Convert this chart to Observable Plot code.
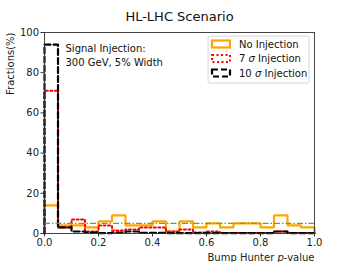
<!DOCTYPE html>
<html>
<head>
<meta charset="utf-8">
<script src="https://cdn.jsdelivr.net/npm/d3@7"></script>
<script src="https://cdn.jsdelivr.net/npm/@observablehq/plot@0.6"></script>
<style>
  html, body { margin: 0; padding: 0; background: #fff; }
  #wrap { position: relative; width: 349px; height: 262px; }
  #wrap svg { font-family: "DejaVu Sans", sans-serif; }
  #legend { position: absolute; left: 0; top: 0; }
</style>
</head>
<body>
<div id="wrap"></div>
<script>
// bin edges (left edge of each 0.05 bin)
const binEdges = [0.00,0.05,0.10,0.15,0.20,0.25,0.30,0.35,0.40,0.45,0.50,0.55,0.60,0.65,0.70,0.75,0.80,0.85,0.90,0.95];
const binEnd = 1.0;
// fractions (%)
const noInjection = [14,4,4,3,6,9,4,4,6,1,6,3,5,3,5,5,3,9,4,3];
const sigma7 = [71,3,7,1,4,1.5,2,3,3,1,2,0.5,1,0.3,0.3,0.3,0.3,1,0.3,0.3];
const sigma10 = [94,3,1,0.5,0.2,0.5,1,0.3,0.3,0.2,0.2,0.2,0.2,0.2,0.2,0.2,0.2,1,0.2,0.2];
const refLevel = 5;
const xTicks = [0,0.2,0.4,0.6,0.8,1.0];
const yTicks = [0,20,40,60,80,100];
const seriesNames = ["No Injection", "7 \u03C3 Injection", "10 \u03C3 Injection"];

function stepPoints(vals) {
  const pts = [{x: binEdges[0], y: 0}];
  vals.forEach((v, i) => pts.push({x: binEdges[i], y: v}));
  pts.push({x: binEnd, y: vals[vals.length - 1]});
  pts.push({x: binEnd, y: 0});
  return pts;
}

const orange = "#FFA500";
const green = "#5aa84a";

const chart = Plot.plot({
  width: 349,
  height: 262,
  marginTop: 32,
  marginBottom: 29,
  marginLeft: 44,
  marginRight: 35,
  style: {fontFamily: "DejaVu Sans, sans-serif", fontSize: "10px", color: "#222", background: "#fff"},
  x: {domain: [0, 1]},
  y: {domain: [0, 100]},
  marks: [
    Plot.axisX({ticks: xTicks, tickFormat: d => d.toFixed(1), tickSize: 3.5, tickPadding: 2, label: null, fontSize: 10, stroke: "#333", color: "#222"}),
    Plot.axisY({ticks: yTicks, tickSize: 3.5, tickPadding: 2, label: null, fontSize: 10, stroke: "#333", color: "#222"}),
    Plot.line(stepPoints(noInjection), {x: "x", y: "y", curve: "step-after", stroke: orange, strokeWidth: 2.2, strokeLinejoin: "miter"}),
    Plot.line(stepPoints(sigma7), {x: "x", y: "y", curve: "step-after", stroke: "red", strokeWidth: 2, strokeDasharray: "2,2.5"}),
    Plot.line(stepPoints(sigma10), {x: "x", y: "y", curve: "step-after", stroke: "black", strokeWidth: 2.2, strokeDasharray: "6,3"}),
    Plot.ruleY([refLevel], {stroke: green, strokeWidth: 1.3, strokeDasharray: "6,2,1.5,2"}),
    Plot.frame({stroke: "#333", strokeWidth: 0.9}),
    Plot.text(["HL-LHC Scenario"], {frameAnchor: "top", dy: -16, lineAnchor: "middle", fontSize: 13, fill: "#111"}),
    Plot.text(["Fractions(%)"], {frameAnchor: "top-left", dx: -34, rotate: -90, textAnchor: "end", lineAnchor: "middle", fontSize: 10, fill: "#222"}),
    Plot.text(["Bump Hunter p-value"], {frameAnchor: "bottom-right", dy: 24, textAnchor: "end", lineAnchor: "middle", fontSize: 10, fill: "#222"}),
    Plot.text(["Signal Injection:"], {frameAnchor: "top-left", dx: 21, dy: 16, textAnchor: "start", lineAnchor: "middle", fontSize: 10, fill: "#111"}),
    Plot.text(["300 GeV, 5% Width"], {frameAnchor: "top-left", dx: 21, dy: 30, textAnchor: "start", lineAnchor: "middle", fontSize: 10, fill: "#111"})
  ]
});

// italic p in x label
d3.select(chart).selectAll("text").each(function() {
  const t = d3.select(this);
  if (t.text() === "Bump Hunter p-value") {
    t.text("");
    t.append("tspan").text("Bump Hunter ");
    t.append("tspan").attr("font-style", "italic").text("p");
    t.append("tspan").text("-value");
  }
});

const wrap = document.getElementById("wrap");
wrap.appendChild(chart);

// legend overlay
const leg = d3.select(wrap).append("svg").attr("id", "legend").attr("width", 349).attr("height", 262)
  .style("font-family", "DejaVu Sans, sans-serif");
leg.append("rect").attr("x", 208).attr("y", 36).attr("width", 101).attr("height", 47).attr("rx", 2)
  .attr("fill", "white").attr("fill-opacity", 0.8).attr("stroke", "#ccc").attr("stroke-width", 0.8);
const styles = [
  {stroke: orange, dash: null, w: 2.2},
  {stroke: "red", dash: "2,2.5", w: 2},
  {stroke: "black", dash: "6,3", w: 2.2}
];
const rowsY = [44, 58.5, 73];
seriesNames.forEach((name, i) => {
  const s = styles[i];
  const r = leg.append("rect").attr("x", 212).attr("y", rowsY[i] - 3.5).attr("width", 18).attr("height", 7)
    .attr("fill", "none").attr("stroke", s.stroke).attr("stroke-width", s.w);
  if (s.dash) r.attr("stroke-dasharray", s.dash);
  const t = leg.append("text").attr("x", 239).attr("y", rowsY[i]).attr("dy", "0.35em").attr("font-size", 10).attr("fill", "#111");
  const parts = name.split("\u03C3");
  if (parts.length > 1) {
    t.append("tspan").text(parts[0]);
    t.append("tspan").attr("font-style", "italic").text("\u03C3");
    t.append("tspan").text(parts[1]);
  } else {
    t.text(name);
  }
});
</script>
</body>
</html>
